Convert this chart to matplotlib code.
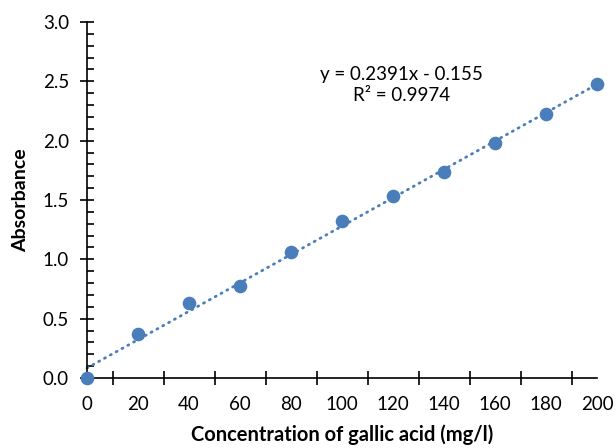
import numpy as np
import matplotlib.pyplot as plt
from matplotlib.ticker import MultipleLocator, FixedLocator

plt.rcParams['font.family'] = ['Lato', 'DejaVu Sans']

# calibration data: gallic acid standards
conc = [0, 20, 40, 60, 80, 100, 120, 140, 160, 180, 200]
absorb = [0.0, 0.37, 0.63, 0.775, 1.06, 1.32, 1.53, 1.74, 1.98, 2.225, 2.475]

# linear trend (x is the point number 1..11)
slope = 0.2391
intercept = -0.155
r2 = 0.9974

blue = '#4a7ebb'

fig = plt.figure(figsize=(6.16, 4.48), dpi=100)
ax = fig.add_axes([87/616, 70/448, 510/616, 356/448])

xx = np.array(conc, dtype=float)
trend = slope * (xx / 20 + 1) + intercept
ax.plot(xx, trend, linestyle=(0, (0.4, 2.0)), color=blue, lw=2.0,
        dash_capstyle='round', clip_on=False, zorder=2)
ax.plot(conc, absorb, 'o', color=blue, ms=8.8, mec=blue, clip_on=False, zorder=3)

ax.set_xlim(0, 200)
ax.set_ylim(0, 3.0)

for s in ['top', 'right']:
    ax.spines[s].set_visible(False)
for s in ['left', 'bottom']:
    ax.spines[s].set_linewidth(1.2)

# x labels sit under the points, tick marks fall between them
ax.xaxis.set_major_locator(FixedLocator(conc))
ax.xaxis.set_minor_locator(FixedLocator(list(range(10, 200, 20)) + [200]))
ax.tick_params(axis='x', which='major', length=0, pad=13, labelsize=13.5)
ax.tick_params(axis='x', which='minor', direction='inout', length=10, width=1.2)

ax.yaxis.set_major_locator(MultipleLocator(0.5))
ax.yaxis.set_minor_locator(MultipleLocator(0.1))
ax.yaxis.set_major_formatter(plt.FormatStrFormatter('%.1f'))
ax.tick_params(axis='y', which='major', direction='inout', length=10, width=1.2,
               pad=8, labelsize=13.5)
ax.tick_params(axis='y', which='minor', direction='in', length=5, width=1.2)

ax.set_xlabel('Concentration of gallic acid (mg/l)', fontsize=14.5,
              fontweight='bold', labelpad=8)
ax.set_ylabel('Absorbance', fontsize=14, fontweight='bold', labelpad=10)

ax.text(0.616, 0.823, f'y = {slope}x - {abs(intercept)}\nR² = {r2}',
        transform=ax.transAxes, ha='center', va='center', fontsize=13.5,
        linespacing=1.35)

fig.savefig('out.png', dpi=100)
